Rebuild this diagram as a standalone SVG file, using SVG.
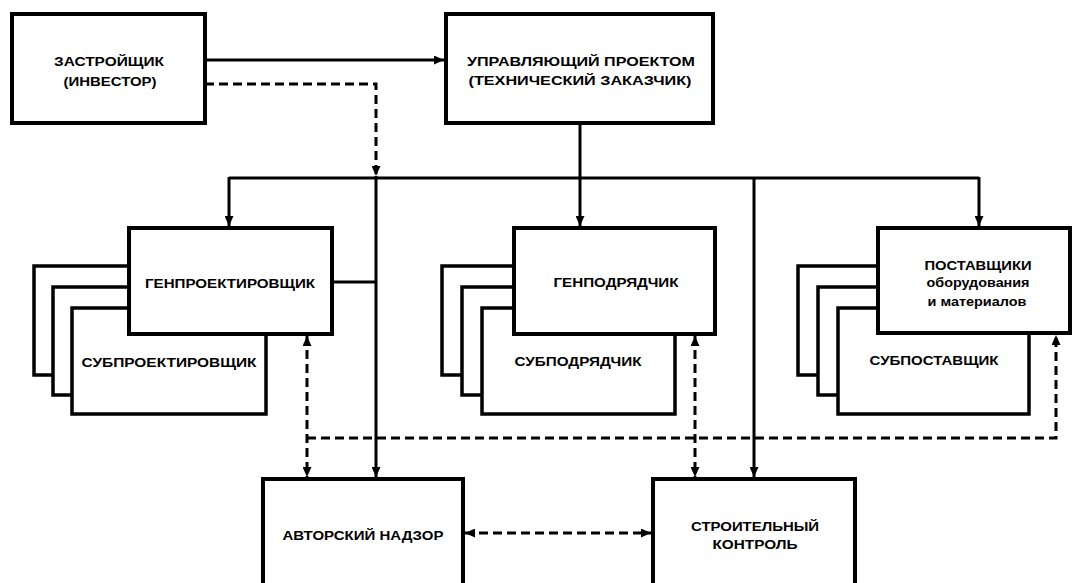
<svg xmlns="http://www.w3.org/2000/svg" width="1076" height="583" viewBox="0 0 1076 583">
<style>
.box{fill:#fff;stroke:#000;stroke-width:4}
.back{fill:#fff;stroke:#000;stroke-width:3.5}
.ln{fill:none;stroke:#000;stroke-width:3}
.dsh{fill:none;stroke:#000;stroke-width:3;stroke-dasharray:9 5}
text{font-family:"Liberation Sans",Arial,sans-serif;font-weight:bold;font-size:12px;fill:#000;text-anchor:middle}
</style>
<defs>
<marker id="ah" markerUnits="userSpaceOnUse" markerWidth="11" markerHeight="9" refX="10" refY="4.5" orient="auto-start-reverse">
<path d="M0,0 L10,4.5 L0,9 z" fill="#000"/>
</marker>
</defs>
<rect width="1076" height="583" fill="#fff"/>

<g id="zastroyshchik">
<rect class="box" x="12" y="14" width="193" height="109"/>
<text x="109" y="66" textLength="110" lengthAdjust="spacingAndGlyphs">ЗАСТРОЙЩИК</text>
<text x="110" y="86" textLength="93" lengthAdjust="spacingAndGlyphs">(ИНВЕСТОР)</text>
</g>

<g id="upravlyayushchiy">
<rect class="box" x="446" y="14" width="267" height="109"/>
<text x="581" y="66" textLength="228" lengthAdjust="spacingAndGlyphs">УПРАВЛЯЮЩИЙ ПРОЕКТОМ</text>
<text x="580" y="85" textLength="223" lengthAdjust="spacingAndGlyphs">(ТЕХНИЧЕСКИЙ ЗАКАЗЧИК)</text>
</g>

<g id="genproektirovshchik">
<rect class="back" x="34" y="266" width="166" height="109"/>
<rect class="back" x="53" y="287" width="167" height="108"/>
<rect class="back" x="72" y="308" width="194" height="106"/>
<text x="169" y="367" textLength="175" lengthAdjust="spacingAndGlyphs">СУБПРОЕКТИРОВЩИК</text>
<rect class="box" x="129" y="228" width="203" height="106"/>
<text x="230" y="288" textLength="170" lengthAdjust="spacingAndGlyphs">ГЕНПРОЕКТИРОВЩИК</text>
</g>

<g id="genpodryadchik">
<rect class="back" x="442" y="266" width="150" height="109"/>
<rect class="back" x="462" y="287" width="150" height="108"/>
<rect class="back" x="482" y="308" width="193" height="106"/>
<text x="578" y="366" textLength="127" lengthAdjust="spacingAndGlyphs">СУБПОДРЯДЧИК</text>
<rect class="box" x="514" y="228" width="201" height="106"/>
<text x="616" y="287" textLength="125" lengthAdjust="spacingAndGlyphs">ГЕНПОДРЯДЧИК</text>
</g>

<g id="postavshchiki">
<rect class="back" x="798" y="266" width="160" height="109"/>
<rect class="back" x="818" y="287" width="160" height="108"/>
<rect class="back" x="838" y="308" width="191" height="106"/>
<text x="934" y="365" textLength="129" lengthAdjust="spacingAndGlyphs">СУБПОСТАВЩИК</text>
<rect class="box" x="878" y="228" width="192" height="105"/>
<text x="978" y="270" textLength="107" lengthAdjust="spacingAndGlyphs">ПОСТАВЩИКИ</text>
<text x="978" y="287" textLength="103" lengthAdjust="spacingAndGlyphs">оборудования</text>
<text x="977" y="306" textLength="99" lengthAdjust="spacingAndGlyphs">и материалов</text>
</g>

<g id="avtorskiy">
<rect class="box" x="263" y="479" width="200" height="130"/>
<text x="363" y="540" textLength="161" lengthAdjust="spacingAndGlyphs">АВТОРСКИЙ НАДЗОР</text>
</g>

<g id="stroitelnyy">
<rect class="box" x="653" y="479" width="202" height="130"/>
<text x="755" y="531" textLength="128" lengthAdjust="spacingAndGlyphs">СТРОИТЕЛЬНЫЙ</text>
<text x="755" y="549" textLength="85" lengthAdjust="spacingAndGlyphs">КОНТРОЛЬ</text>
</g>

<g id="connectors">
<line class="ln" x1="205" y1="60" x2="444" y2="60" marker-end="url(#ah)"/>
<polyline class="dsh" points="205,84 376,84 376,176" marker-end="url(#ah)"/>
<line class="ln" x1="580" y1="123" x2="580" y2="178"/>
<line class="ln" x1="229" y1="178" x2="979" y2="178"/>
<line class="ln" x1="229" y1="177" x2="229" y2="226" marker-end="url(#ah)"/>
<line class="ln" x1="580" y1="177" x2="580" y2="226" marker-end="url(#ah)"/>
<line class="ln" x1="979" y1="177" x2="979" y2="226" marker-end="url(#ah)"/>
<line class="ln" x1="376" y1="176" x2="376" y2="477" marker-end="url(#ah)"/>
<line class="ln" x1="332" y1="282" x2="376" y2="282"/>
<line class="ln" x1="754" y1="177" x2="754" y2="477" marker-end="url(#ah)"/>
<line class="dsh" x1="307" y1="336" x2="307" y2="477" marker-start="url(#ah)" marker-end="url(#ah)"/>
<line class="dsh" x1="695" y1="336" x2="695" y2="477" marker-start="url(#ah)" marker-end="url(#ah)"/>
<polyline class="dsh" points="307,438 1056,438 1056,335" marker-end="url(#ah)"/>
<line class="dsh" x1="465" y1="533" x2="651" y2="533" marker-start="url(#ah)" marker-end="url(#ah)"/>
</g>
</svg>
